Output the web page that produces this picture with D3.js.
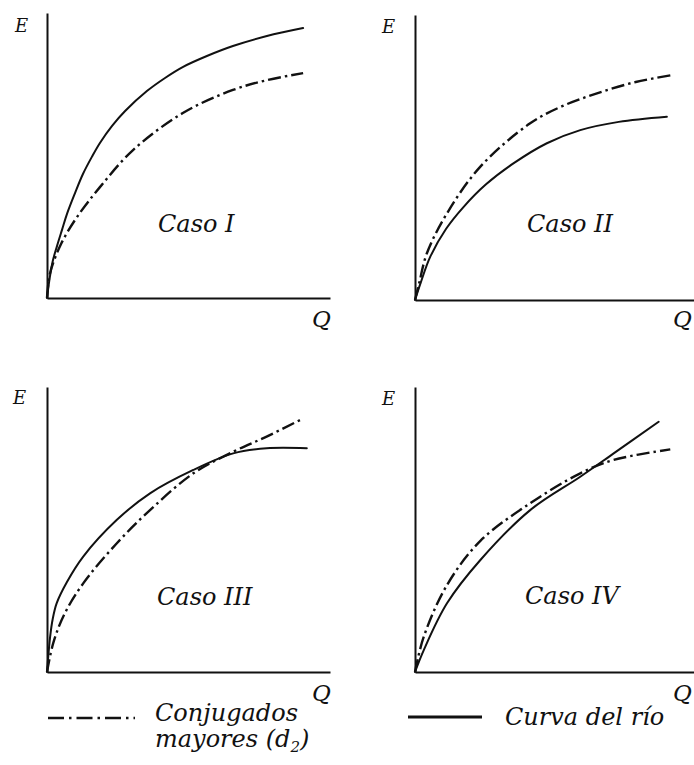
<!DOCTYPE html>
<html>
<head>
<meta charset="utf-8">
<script src="https://cdn.jsdelivr.net/npm/d3@7"></script>
<style>
  html, body { margin: 0; padding: 0; background: #fff; }
  svg { display: block; }
  text { font-family: "DejaVu Serif", "Liberation Serif", serif; font-style: italic; fill: #111; }
</style>
</head>
<body>
<svg id="chart" width="694" height="765"></svg>
<script>
// ---------- Data (Q, E in relative units 0–100) ----------
const caseLabels = ["Caso I", "Caso II", "Caso III", "Caso IV"];
const axisLabelE = "E";
const axisLabelQ = "Q";

// Curva del río (solid)
const rioCaso1 = [[0,0],[0.35,2.8],[1.06,7.7],[2.12,13.3],[3.53,18.2],[5.3,23.9],[7.07,29.5],[9.9,36.8],[12.7,43.5],[15.9,49.6],[18.7,54.4],[23,60.4],[27.6,65.6],[35.3,72.6],[41.7,77.2],[48.1,81.1],[56.5,84.9],[65.7,88.4],[77.7,91.9],[90.5,94.7]];
const rioCaso2 = [[0,0],[2,6],[5.4,15.2],[11,25],[17.2,32.7],[25,40.5],[34.9,48],[46.6,55],[58.4,59.6],[72,62.5],[89,64.3]];
const rioCaso3 = [[0,0],[1.1,12.3],[2,18.5],[3.4,24.1],[7,31.5],[12.8,40.5],[24.6,53.3],[36.4,62.7],[51.7,70.9],[65.8,76.7],[77.6,78.5],[91.8,78.5]];
const rioCaso4 = [[0,0],[3.1,7.7],[11.3,24.1],[23.1,39.3],[40.7,56.8],[58.4,68.5],[70.2,76.7],[86.1,87.8]];

// Conjugados mayores d2 (dash-dot)
const conjCaso1 = [[0,0],[1.1,8.8],[5,19],[10.6,28.4],[18.7,38.9],[30.4,51.9],[48,64.9],[65.7,73],[78,76.5],[90.5,78.9]];
const conjCaso2 = [[0,0],[1.5,6],[4.2,16.4],[11.3,30.4],[23.1,46.8],[40.7,62],[52,68],[64.3,72.5],[78,76.5],[90.8,78.9]];
const conjCaso3 = [[0,0],[2.2,10.1],[6,20],[12.8,31.1],[24.6,45.1],[36.4,56.8],[51.7,69.7],[65.8,77.3],[77.6,82.6],[90.6,89]];
const conjCaso4 = [[0,0],[3.1,12.4],[11.3,30.5],[23.1,46],[40.7,59.2],[58.4,69.7],[70.2,74.4],[90.2,78.1]];

const rioSeries = [rioCaso1, rioCaso2, rioCaso3, rioCaso4];
const conjSeries = [conjCaso1, conjCaso2, conjCaso3, conjCaso4];

const legendLabels = ["Conjugados", "mayores (d", "2", ")", "Curva del río"];

// ---------- Layout ----------
const panels = [
  { x0: 47,  y0: 298, eX: 15,  eY: 32,  qX: 312, qY: 327, cX: 158, cY: 232 },
  { x0: 415, y0: 300, eX: 382, eY: 33,  qX: 673, qY: 327, cX: 527, cY: 232 },
  { x0: 47,  y0: 672, eX: 13,  eY: 404, qX: 312, qY: 701, cX: 157, cY: 605 },
  { x0: 415, y0: 672, eX: 382, eY: 405, qX: 673, qY: 701, cX: 525, cY: 604 }
];
const W = 283, H = 285;
const dashDot = "13,4,2.5,4";

const svg = d3.select("#chart");

panels.forEach((p, i) => {
  const x = d3.scaleLinear().domain([0, 100]).range([p.x0, p.x0 + W]);
  const y = d3.scaleLinear().domain([0, 100]).range([p.y0, p.y0 - H]);
  const g = svg.append("g");

  // axes (no ticks)
  g.append("g").attr("transform", `translate(0,${p.y0})`)
    .call(d3.axisBottom(x).ticks(0).tickSizeOuter(0))
    .select(".domain").attr("stroke", "#111").attr("stroke-width", 2);
  g.append("g").attr("transform", `translate(${p.x0},0)`)
    .call(d3.axisLeft(y).ticks(0).tickSizeOuter(0))
    .select(".domain").attr("stroke", "#111").attr("stroke-width", 2);

  const line = d3.line().x(d => x(d[0])).y(d => y(d[1])).curve(d3.curveCatmullRom.alpha(0.5));

  g.append("path").datum(rioSeries[i])
    .attr("d", line).attr("fill", "none").attr("stroke", "#111")
    .attr("stroke-width", 2).attr("stroke-linecap", "round");
  g.append("path").datum(conjSeries[i])
    .attr("d", line).attr("fill", "none").attr("stroke", "#111")
    .attr("stroke-width", 2.4).attr("stroke-dasharray", dashDot);

  g.append("text").attr("x", p.eX).attr("y", p.eY).attr("font-size", 18).text(axisLabelE);
  g.append("text").attr("x", p.qX).attr("y", p.qY).attr("font-size", 23).text(axisLabelQ);
  g.append("text").attr("x", p.cX).attr("y", p.cY).attr("font-size", 24).text(caseLabels[i]);
});

// ---------- Legend ----------
const lg = svg.append("g");
lg.append("line").attr("x1", 48).attr("x2", 135).attr("y1", 718).attr("y2", 718)
  .attr("stroke", "#111").attr("stroke-width", 2.6).attr("stroke-dasharray", "16,5,2.5,5");
lg.append("text").attr("x", 155).attr("y", 721).attr("font-size", 24).text(legendLabels[0]);
const t2 = lg.append("text").attr("x", 155).attr("y", 747).attr("font-size", 24);
t2.append("tspan").text(legendLabels[1]);
t2.append("tspan").attr("font-size", 15).attr("dy", 5).text(legendLabels[2]);
t2.append("tspan").attr("dy", -5).text(legendLabels[3]);

lg.append("line").attr("x1", 408).attr("x2", 482).attr("y1", 717).attr("y2", 717)
  .attr("stroke", "#111").attr("stroke-width", 2.8);
lg.append("text").attr("x", 505).attr("y", 725).attr("font-size", 24).text(legendLabels[4]);
</script>
</body>
</html>
